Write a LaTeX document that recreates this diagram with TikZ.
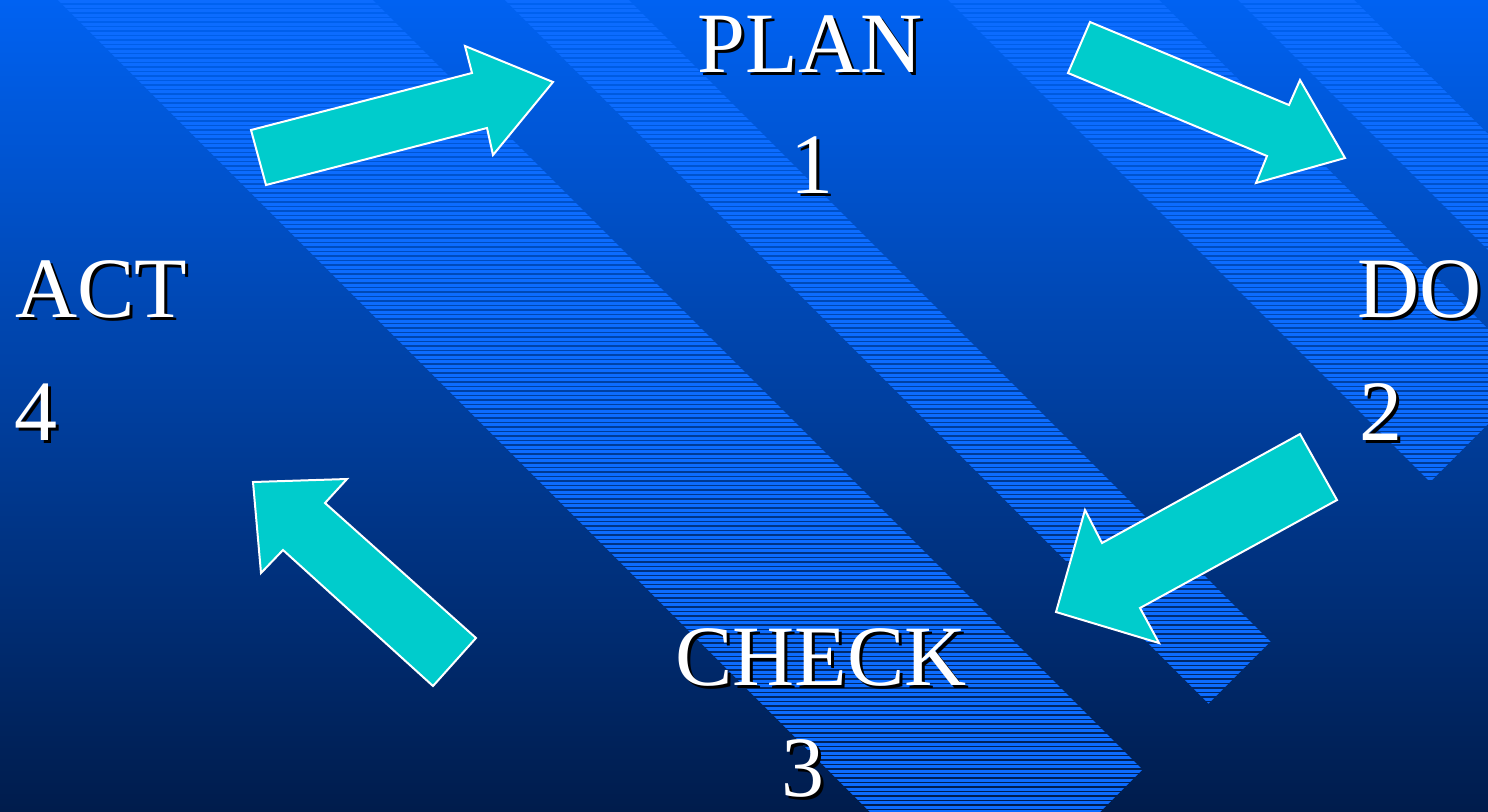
\documentclass[tikz,border=0pt]{standalone}
\usepackage{fontspec}
\setmainfont{Liberation Serif}
\definecolor{bgtop}{RGB}{0,98,242}
\definecolor{bgmid}{RGB}{0,66,165}
\definecolor{bgbot}{RGB}{0,28,76}
\definecolor{hatchblue}{RGB}{12,108,255}
\definecolor{arrowcyan}{RGB}{0,204,204}
\begin{document}
\begin{tikzpicture}[x=0.5pt,y=-0.5pt,
    lbl/.style={inner sep=0pt,font=\fontsize{43}{50}\selectfont,text=white},
    lblshadow/.style={lbl,text=black},
    blockarrow/.style={fill=arrowcyan,draw=white,line width=1pt,line join=miter}]
  \useasboundingbox (0,0) rectangle (1488,811);
  \shade[top color=bgtop,middle color=bgmid,bottom color=bgbot] (0,0) rectangle (1488,811);
  % hatched diagonal bands
  \begin{scope}
    \clip \foreach \a/\b in {58/373,505/629,948/1159,1238/1354}{
      (\a-5,-5) -- (\b-5,-5) -- ({(\b+1912)/2},{(1912-\b)/2}) -- ({(\a+1912)/2},{(1912-\a)/2}) -- cycle};
    \foreach \i in {0,...,181}
      \fill[hatchblue] (0,\i*4.5) rectangle (1488,\i*4.5+3.3);
  \end{scope}
  % cycle arrows
  \draw[blockarrow] (251,130) -- (472,73) -- (465,46) -- (553,82) -- (493,155) -- (487,128) -- (266,185) -- cycle;
  \draw[blockarrow] (1090,22) -- (1289,105) -- (1300,80) -- (1345,158) -- (1256,183) -- (1267,156) -- (1068,73) -- cycle;
  \draw[blockarrow] (1300,434) -- (1102,543) -- (1085,510) -- (1056,612) -- (1159,643) -- (1140,608) -- (1337,500) -- cycle;
  \draw[blockarrow] (476,638) -- (325,503) -- (347,479) -- (253,482) -- (261,573) -- (283,550) -- (433,686) -- cycle;
  % labels with drop shadow
  \foreach \nm/\x/\y/\anc/\txt in {plan/810/72/base/PLAN, one/812/193/base/1,
      do/1357/317/base west/DO, two/1359/440/base west/2,
      check/821/685/base/CHECK, three/803/796/base/3,
      act/15/317/base west/ACT, four/14/440/base west/4}{
    \node[lblshadow,anchor=\anc] (\nm-s) at (\x+3,\y+3) {\txt};
    \node[lbl,anchor=\anc] (\nm) at (\x,\y) {\txt};
  }
\end{tikzpicture}
\end{document}
